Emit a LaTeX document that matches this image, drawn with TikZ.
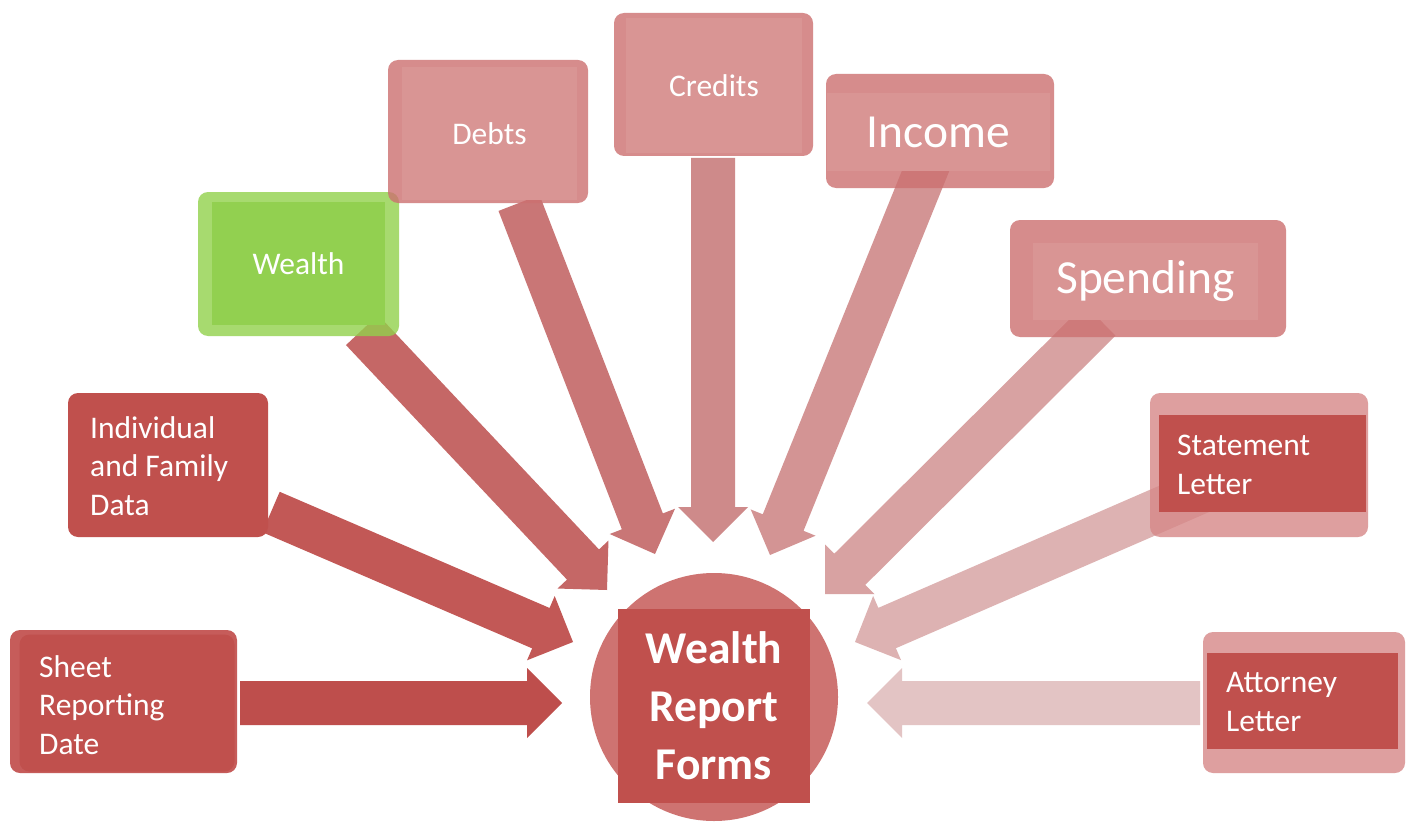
\documentclass[tikz,border=0pt]{standalone}
\usepackage{fontspec}
\setmainfont{Carlito}
\usetikzlibrary{calc}
\definecolor{boxred}{RGB}{192,80,77}
\definecolor{sheetout}{RGB}{198,92,90}
\definecolor{greenout}{RGB}{146,209,76}
\definecolor{greenin}{RGB}{146,208,80}
\definecolor{pinkout}{RGB}{204,112,112}
\definecolor{pinkin}{RGB}{217,149,148}
\definecolor{lightout}{RGB}{214,136,136}
\definecolor{circfill}{RGB}{206,115,113}
\definecolor{aSheet}{RGB}{190,78,76}
\definecolor{aIndiv}{RGB}{194,88,86}
\definecolor{aWealth}{RGB}{197,103,102}
\definecolor{aDebts}{RGB}{201,118,118}
\definecolor{aCredits}{RGB}{206,138,138}
\definecolor{aIncome}{RGB}{211,148,148}
\definecolor{aSpending}{RGB}{216,162,162}
\definecolor{aStatement}{RGB}{221,178,178}
\definecolor{aAttorney}{RGB}{227,196,196}
\newcommand\blockarr[3]{%
  \coordinate (#1H) at ($(#2)!35pt!(#1)$);
  \fill[#3] ($(#1)!22pt!90:(#2)$) -- ($(#1H)!22pt!90:(#2)$) -- ($(#1H)!35pt!90:(#2)$)
    -- (#2) -- ($(#1H)!35pt!-90:(#2)$) -- ($(#1H)!22pt!-90:(#2)$) -- ($(#1)!22pt!-90:(#2)$) -- cycle;
}
\tikzset{
  box/.style={inner sep=0pt, outer sep=0pt, draw=none, rounded corners=10pt},
  sqbox/.style={inner sep=0pt, outer sep=0pt, draw=none},
  txt/.style={text=white, inner sep=0pt, font=\fontsize{31.5}{38.5}\selectfont},
  bigtxt/.style={text=white, inner sep=0pt, font=\fontsize{47.5}{57}\selectfont},
  ltxt/.style={txt, align=left, anchor=west},
  frame/.style={fill opacity=0.8}
}
\begin{document}
\begin{tikzpicture}[x=1pt,y=-1pt]
\useasboundingbox (0,0) rectangle (1408,832);
\fill[white] (0,0) rectangle (1408,832);

% arrow end points
\coordinate (sheetS) at (240,703);   \coordinate (sheetT) at (562,703);
\coordinate (indivS) at (271,512);   \coordinate (indivT) at (573,642);
\coordinate (wealthS) at (362,330);  \coordinate (wealthT) at (607,590);
\coordinate (debtsS) at (519,203);   \coordinate (debtsT) at (655,554);
\coordinate (creditsS) at (713,158); \coordinate (creditsT) at (713,542);
\coordinate (incomeS) at (930,160);  \coordinate (incomeT) at (770,555);
\coordinate (spendS) at (1100,320);  \coordinate (spendT) at (825,594);
\coordinate (stateS) at (1200,492);  \coordinate (stateT) at (855,642);
\coordinate (attS) at (1200,703);    \coordinate (attT) at (867,703);

% arrows
\blockarr{sheetS}{sheetT}{aSheet}
\blockarr{indivS}{indivT}{aIndiv}
\blockarr{wealthS}{wealthT}{aWealth}
\blockarr{debtsS}{debtsT}{aDebts}
\blockarr{creditsS}{creditsT}{aCredits}
\blockarr{incomeS}{incomeT}{aIncome}
\blockarr{spendS}{spendT}{aSpending}
\blockarr{stateS}{stateT}{aStatement}
\blockarr{attS}{attT}{aAttorney}

% centre
\node[circle, fill=circfill, minimum size=248pt, inner sep=0pt] (circ) at (714,697) {};
\node[sqbox, fill=boxred, minimum width=192pt, minimum height=194pt] (centre) at (714,706) {};
\node[text=white, align=center, inner sep=0pt, font=\bfseries\fontsize{45.5}{58}\selectfont] (centretxt) at (714,706) {Wealth\\Report\\Forms};

% Sheet Reporting Date
\node[box, fill=sheetout, minimum width=227pt, minimum height=143pt] (sheetO) at (123.5,701.5) {};
\node[box, fill=boxred, minimum width=215pt, minimum height=137pt] (sheetI) at (127,703) {};
\node[ltxt] (sheettxt) at (39,705) {Sheet\\Reporting\\Date};

% Individual and Family Data
\node[box, fill=boxred, minimum width=200pt, minimum height=144pt] (indiv) at (168,465) {};
\node[ltxt] (indivtxt) at (90,466) {Individual\\and Family\\Data};

% Wealth
\node[box, frame, fill=greenout, minimum width=201pt, minimum height=144pt] (wealthO) at (298.5,264) {};
\node[sqbox, fill=greenin, minimum width=173pt, minimum height=123pt, txt] (wealthI) at (298.5,263.5) {Wealth};

% Debts
\node[box, fill=pinkout, frame, minimum width=200pt, minimum height=143pt] (debtsO) at (488,131.5) {};
\node[sqbox, fill=pinkin, minimum width=175pt, minimum height=133pt, txt] (debtsI) at (489.5,133.5) {Debts};

% Credits
\node[box, fill=pinkout, frame, minimum width=199pt, minimum height=143pt] (creditsO) at (713.5,84.5) {};
\node[sqbox, fill=pinkin, minimum width=176pt, minimum height=135pt, txt] (creditsI) at (714,85.5) {Credits};

% Income
\node[box, fill=pinkout, frame, minimum width=228pt, minimum height=114pt] (incomeO) at (940,131) {};
\node[sqbox, fill=pinkin, minimum width=223pt, minimum height=78pt, bigtxt] (incomeI) at (938.5,132) {Income};

% Spending
\node[box, fill=pinkout, frame, minimum width=276pt, minimum height=117pt] (spendO) at (1148,278.5) {};
\node[sqbox, fill=pinkin, minimum width=225pt, minimum height=77pt, bigtxt] (spendI) at (1145.5,281.5) {Spending};

% Statement Letter
\node[box, fill=lightout, frame, minimum width=218pt, minimum height=144pt] (stateO) at (1259,465) {};
\node[sqbox, fill=boxred, minimum width=207pt, minimum height=97pt] (stateI) at (1262.5,463.5) {};
\node[ltxt] (statetxt) at (1177,465) {Statement\\Letter};

% Attorney Letter
\node[box, fill=lightout, frame, minimum width=202pt, minimum height=141pt] (attO) at (1304,702.5) {};
\node[sqbox, fill=boxred, minimum width=191pt, minimum height=96pt] (attI) at (1302.5,701) {};
\node[ltxt] (atttxt) at (1226,702) {Attorney\\Letter};
\end{tikzpicture}
\end{document}
